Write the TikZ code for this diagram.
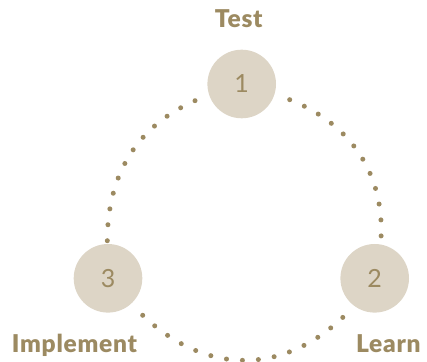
\documentclass[tikz,border=0pt]{standalone}
\usepackage{fontspec}
\setmainfont{Lato}
\newfontfamily\heavyfont{Lato Black}[LetterSpace=3]
\definecolor{gold}{HTML}{9C8A61}
\definecolor{sand}{HTML}{DDD5C6}
\begin{document}
\begin{tikzpicture}[x=1pt,y=1pt,
  stage/.style={circle,fill=sand,minimum size=68.6pt,inner sep=0pt,text=gold,font=\fontsize{25}{25}\selectfont},
  lbl/.style={anchor=base,text=gold,inner sep=0pt,font=\fontsize{24.5}{24.5}\heavyfont},
  dotline/.style={draw=gold,line width=5pt,line cap=round,dash pattern=on 0pt off 16pt}]
\useasboundingbox (0,0) rectangle (427,361);
\node[stage] (n1) at (241.7,277) {1};
\node[stage] (n2) at (374.7,82.7) {2};
\node[stage] (n3) at (108,82.7) {3};
\node[lbl] (t1) at (238.7,333.7) {Test};
\node[lbl] (t2) at (388.3,8.5) {Learn};
\node[lbl] (t3) at (74.5,8.5) {Implement};
\coordinate (a1) at (195,260.3);
\coordinate (b1) at (107.3,120);
\coordinate (a2) at (289.7,261.3);
\coordinate (b2) at (381,122.7);
\coordinate (a3) at (142.7,45.7);
\coordinate (b3) at (347.3,48);
\draw[dotline] (a1) to[out=203.7,in=90] (b1);
\draw[dotline] (a2) to[out=338.6,in=87] (b2);
\draw[dotline] (a3) to[out=316.5,in=225.2,looseness=1.1] (b3);
\end{tikzpicture}
\end{document}
